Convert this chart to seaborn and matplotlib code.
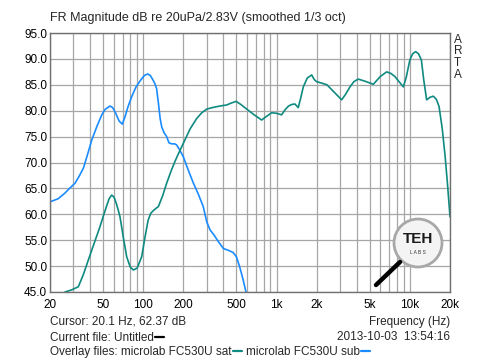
import matplotlib
matplotlib.use("Agg")
import numpy as np
import pandas as pd
import matplotlib.pyplot as plt
import seaborn as sns
from matplotlib.patches import Ellipse
from matplotlib.lines import Line2D

sub_freq = [20, 23, 25.9, 28, 30.8, 33, 35.6, 38, 41.1, 45, 48.9, 52, 56.4, 59, 62, 66, 69.7,
            73, 77, 82, 88, 95, 102, 108, 113, 118, 122, 126, 130, 134, 137.6, 143, 150, 156,
            163.6, 172, 178, 189, 200, 218, 238, 258, 282, 300, 317, 340, 360, 399, 440, 474,
            500, 530, 560, 590]
sub_db = [62.4, 63.0, 64.1, 65.0, 66.0, 67.3, 68.9, 71.3, 74.3, 77.0, 79.2, 80.3, 80.9, 80.6,
          79.6, 78.0, 77.4, 78.8, 80.8, 82.7, 84.5, 85.8, 86.8, 87.1, 86.8, 86.0, 85.3, 84.3,
          81.5, 78.5, 76.9, 75.8, 75.0, 73.8, 73.6, 73.6, 73.4, 72.3, 71.1, 68.5, 66.0, 64.0,
          61.5, 58.5, 57.0, 56.0, 55.0, 53.4, 53.0, 52.6, 51.8, 49.8, 47.5, 45.0]

sat_freq = [25.9, 29, 32.6, 35.5, 38.8, 43, 47.4, 50, 53, 55.5, 58, 60.5, 63, 65, 67, 71, 75.2,
            80, 84.4, 90, 97.4, 103, 109, 114, 120, 130, 140, 150, 161, 173, 186, 200, 225,
            252, 275, 299, 330, 376, 422, 460, 498, 540, 598, 680, 774, 840, 920, 1000, 1092,
            1160, 1230, 1300, 1372, 1455, 1520, 1588, 1700, 1836, 1920, 2000, 2200, 2390,
            2700, 3080, 3300, 3556, 3800, 4100, 4600, 5320, 6000, 6700, 7200, 7720, 8300,
            8940, 9400, 10000, 10500, 11050, 11600, 12200, 12700, 13360, 14200, 15000, 15800,
            16560, 17500, 18400, 19200, 20000]
sat_db = [45.0, 45.4, 46.0, 48.3, 51.2, 54.5, 57.6, 59.5, 61.5, 63.0, 63.7, 63.3, 62.0, 60.8,
          59.5, 55.5, 51.8, 49.8, 49.25, 49.6, 51.8, 55.5, 58.9, 60.2, 60.8, 61.5, 63.6, 66.0,
          68.2, 70.2, 72.0, 73.7, 76.5, 78.5, 79.6, 80.3, 80.6, 80.9, 81.1, 81.5, 81.8, 81.2,
          80.3, 79.2, 78.2, 78.9, 79.6, 79.5, 79.2, 80.2, 80.9, 81.2, 81.3, 80.6, 82.5, 84.6,
          86.3, 86.9, 86.0, 85.6, 85.3, 85.0, 83.6, 82.1, 83.2, 84.6, 85.6, 86.1, 85.7, 85.1,
          86.6, 87.5, 87.2, 86.6, 85.6, 84.6, 86.5, 89.8, 91.0, 91.4, 91.0, 89.8, 86.0, 82.1,
          82.6, 82.8, 82.2, 80.8, 76.5, 71.1, 65.5, 59.5]

major_ticks = [20, 50, 100, 200, 500, 1000, 2000, 5000, 10000, 20000]
major_labels = ["20", "50", "100", "200", "500", "1k", "2k", "5k", "10k", "20k"]
y_ticks = np.arange(45, 96, 5)

SUB_COLOR = "#1a8cff"
SAT_COLOR = "#0f8a80"
GRID = "#a6a6a6"

sns.set_theme(style="white")
plt.rcParams['font.family'] = ['Liberation Sans', 'DejaVu Sans']

fig = plt.figure(figsize=(5, 3.6), dpi=100)
ax = fig.add_axes([50 / 500, 1 - 292 / 360, 400 / 500, 259 / 360])

sub_df = pd.DataFrame({'freq': sub_freq, 'db': sub_db})
sat_df = pd.DataFrame({'freq': sat_freq, 'db': sat_db})
sns.lineplot(data=sub_df, x='freq', y='db', ax=ax, color=SUB_COLOR, lw=1.2, sort=False)
sns.lineplot(data=sat_df, x='freq', y='db', ax=ax, color=SAT_COLOR, lw=1.2, sort=False)

ax.set_xscale('log')
ax.set_xlim(20, 20000)
ax.set_ylim(45, 95)
minor = [m * 10 ** e for e in range(1, 5) for m in range(2, 10)
         if 20 <= m * 10 ** e <= 20000 and m * 10 ** e not in major_ticks]
ax.set_xticks(major_ticks)
ax.set_xticklabels(major_labels)
ax.set_xticks(minor, minor=True)
ax.set_yticks(y_ticks)
ax.set_yticklabels([f"{v:.1f}" for v in y_ticks])
ax.grid(True, which='both', color=GRID, lw=0.9)
ax.set_axisbelow(True)
ax.tick_params(axis='both', which='both', length=0, labelsize=8.5, colors='black')
ax.tick_params(axis='x', pad=5)
ax.tick_params(axis='y', pad=2)
ax.set_xlabel("")
ax.set_ylabel("")
for s in ax.spines.values():
    s.set_color('#707070')
    s.set_linewidth(1.0)

# header and side label
fig.text(50 / 500, 1 - 18 / 360, "FR Magnitude dB re 20uPa/2.83V (smoothed 1/3 oct)",
         fontsize=9, va='center', ha='left')
for i, ch in enumerate("ARTA"):
    fig.text(454 / 500, 1 - (40 + i * 11.5) / 360, ch, fontsize=8.5, va='center', ha='left')

# footer
fig.text(50 / 500, 1 - 322 / 360, "Cursor: 20.1 Hz, 62.37 dB", fontsize=8.5, va='center')
fig.text(450 / 500, 1 - 322 / 360, "Frequency (Hz)", fontsize=8.5, va='center', ha='right')
fig.text(450 / 500, 1 - 337 / 360, "2013-10-03  13:54:16", fontsize=8.5, va='center', ha='right')

fig.canvas.draw()
renderer = fig.canvas.get_renderer()


def text_then_dash(x_px, y_px, txt, color):
    t = fig.text(x_px / 500, 1 - y_px / 360, txt, fontsize=8.5, va='center')
    bb = t.get_window_extent(renderer)
    x0 = bb.x1 + 1
    y = (360 - y_px) + 1
    fig.add_artist(Line2D([x0 / 500, (x0 + 9) / 500], [y / 360, y / 360],
                          color=color, lw=1.6, transform=fig.transFigure))
    return x0 + 9


text_then_dash(50, 338, "Current file: Untitled", 'black')
x_next = text_then_dash(50, 352, "Overlay files: microlab FC530U sat", SAT_COLOR)
text_then_dash(x_next + 4, 352, "microlab FC530U sub", SUB_COLOR)

# TEH labs magnifier logo
fig.add_artist(Line2D([376 / 500, 400 / 500], [1 - 285 / 360, 1 - 262 / 360],
                      color='black', lw=3.2, solid_capstyle='round', transform=fig.transFigure))
fig.add_artist(Ellipse((418 / 500, 1 - 243 / 360), 48 / 500, 48 / 360, transform=fig.transFigure,
                       facecolor='#f4f4f4', edgecolor='#a8a8a8', lw=2.0))
fig.text(418 / 500, 1 - 239 / 360, "TEH", fontsize=11, fontweight='bold', ha='center',
         va='center', color='#1a1a1a')
fig.text(418 / 500, 1 - 252 / 360, "L A B S", fontsize=3.5, ha='center', va='center',
         color='#333333')

fig.savefig("out.png", dpi=100)
